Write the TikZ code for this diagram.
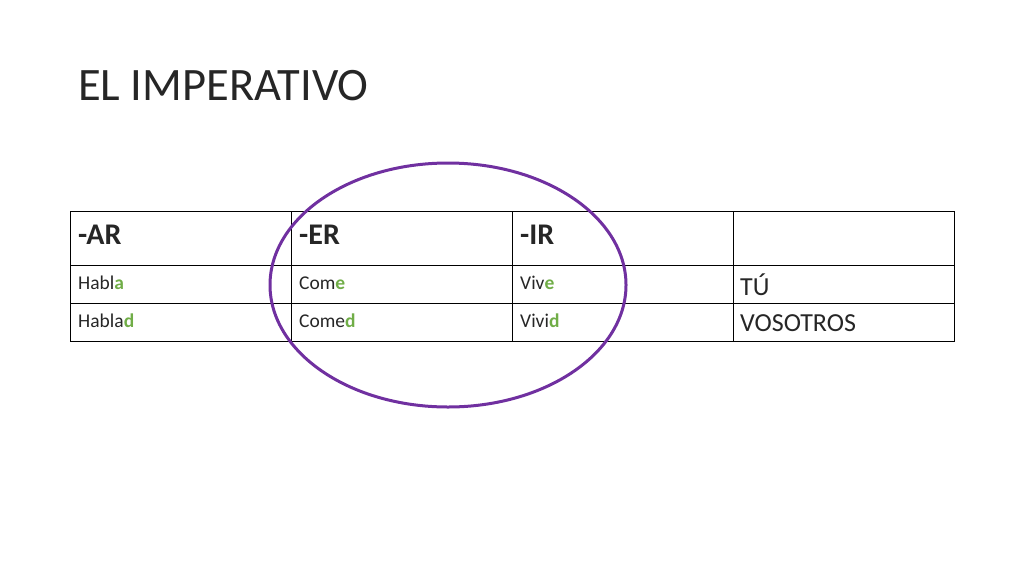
\documentclass[tikz,border=0pt]{standalone}
\usepackage{fontspec}
\setmainfont{Carlito}
\definecolor{grn}{HTML}{70AD47}
\definecolor{purp}{HTML}{7030A0}
\definecolor{txt}{HTML}{262626}
\begin{document}
\begin{tikzpicture}[x=1pt,y=-1pt,
  hdr/.style={anchor=west,inner sep=0,text=txt,font=\fontsize{30}{32}\selectfont\bfseries},
  sml/.style={anchor=west,inner sep=0,text=txt,font=\fontsize{19.5}{21}\selectfont},
  big/.style={anchor=west,inner sep=0,text=txt,font=\fontsize{26}{28}\selectfont}]
\useasboundingbox (0,0) rectangle (1024,576);
\node[anchor=base west,inner sep=0,text=txt,font=\fontsize{46.5}{50}\selectfont] (title) at (78,100) {EL IMPERATIVO};
\draw[line width=1pt] (70,211) rectangle (954,341);
\foreach \x in {291,512,733} \draw[line width=1pt] (\x,211) -- (\x,341);
\foreach \y in {265,303} \draw[line width=1pt] (70,\y) -- (954,\y);
\node[hdr] (h1) at (78,235) {-AR};
\node[hdr] (h2) at (299,235) {-ER};
\node[hdr] (h3) at (520,235) {-IR};
\node[sml] (a1) at (78,283) {Habl\textbf{\color{grn}a}};
\node[sml] (a2) at (299,283) {Com\textbf{\color{grn}e}};
\node[sml] (a3) at (520,283) {Viv\textbf{\color{grn}e}};
\node[big] (a4) at (740,285) {TÚ};
\node[sml] (b1) at (78,321) {Habla\textbf{\color{grn}d}};
\node[sml] (b2) at (299,321) {Come\textbf{\color{grn}d}};
\node[sml] (b3) at (520,321) {Vivi\textbf{\color{grn}d}};
\node[big] (b4) at (740,323) {VOSOTROS};
\draw[purp,line width=3pt] (448,285) ellipse [x radius=178,y radius=122];
\end{tikzpicture}
\end{document}
